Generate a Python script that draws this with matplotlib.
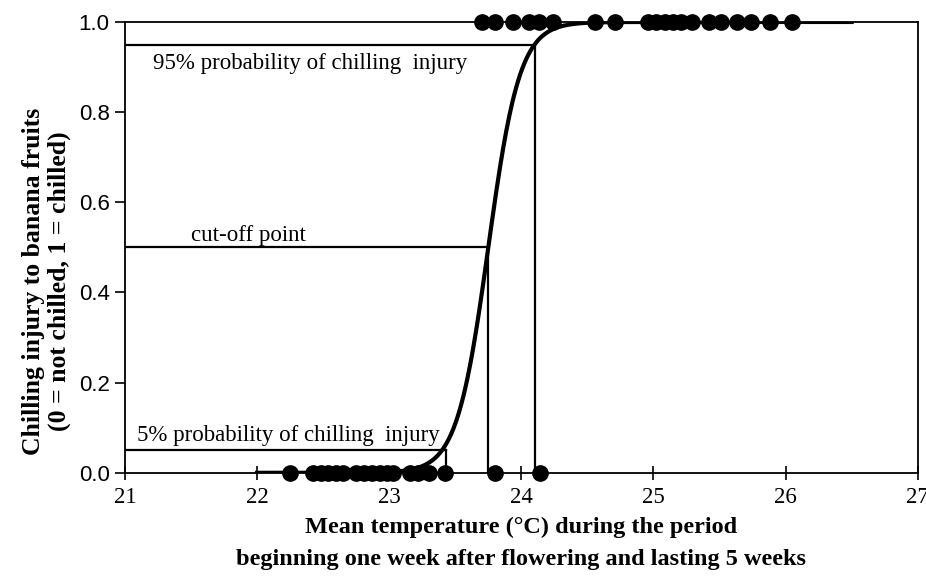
import numpy as np
import matplotlib.pyplot as plt

# observed temperatures (deg C) of not chilled / chilled fruits
temp_not_chilled = [22.25, 22.42, 22.48, 22.54, 22.60, 22.65, 22.75, 22.81, 22.87,
                    22.93, 22.98, 23.03, 23.16, 23.22, 23.30, 23.42, 23.80, 24.14]
temp_chilled = [23.70, 23.80, 23.94, 24.06, 24.13, 24.24, 24.56, 24.71,
                24.96, 25.02, 25.09, 25.15, 25.21, 25.29,
                25.42, 25.51, 25.63, 25.74, 25.88, 26.05]

# logistic fit
cutoff_temp = 23.75
p05_temp = 23.43
p95_temp = 24.10
slope = 8.4
curve_range = [22.0, 26.5]

plt.rcParams['font.family'] = ['Liberation Serif', 'DejaVu Serif']

fig = plt.figure(figsize=(9.26, 5.78), dpi=100)
ax = fig.add_axes([0.135, 0.182, 0.856, 0.780])

t = np.linspace(curve_range[0], curve_range[1], 600)
p = 1 / (1 + np.exp(-slope * (t - cutoff_temp)))
ax.plot(t, p, color='black', lw=3.0, zorder=3)

ax.plot(temp_not_chilled, np.zeros(len(temp_not_chilled)), 'o', color='black',
        ms=11, clip_on=False, zorder=4)
ax.plot(temp_chilled, np.ones(len(temp_chilled)), 'o', color='black',
        ms=11, clip_on=False, zorder=4)

# reference lines
for xv, yv in [(p95_temp, 0.95), (cutoff_temp, 0.5), (p05_temp, 0.05)]:
    ax.plot([21, xv], [yv, yv], color='black', lw=1.6, zorder=2)
    ax.plot([xv, xv], [0, yv], color='black', lw=1.6, zorder=2)

ax.text(21.21, 0.908, '95% probability of chilling  injury', fontsize=16.5, va='center')
ax.text(21.5, 0.527, 'cut-off point', fontsize=16.5, va='center')
ax.text(21.09, 0.083, '5% probability of chilling  injury', fontsize=16.5, va='center')

ax.set_xlim(21, 27)
ax.set_ylim(0, 1)
ax.set_xticks(range(21, 28))
ax.set_yticks([0, 0.2, 0.4, 0.6, 0.8, 1.0])
ax.set_yticklabels(['0.0', '0.2', '0.4', '0.6', '0.8', '1.0'],
                   family=['Liberation Sans', 'DejaVu Sans'])
ax.tick_params(axis='x', direction='inout', length=10, width=1.2, labelsize=16.5, pad=5)
ax.tick_params(axis='y', direction='out', length=7, width=1.2, labelsize=16, pad=4)
for s in ax.spines.values():
    s.set_linewidth(1.3)

ax.set_xlabel('Mean temperature (\u00b0C) during the period\n'
              'beginning one week after flowering and lasting 5 weeks',
              fontsize=17.5, fontweight='bold', linespacing=1.65)
ax.xaxis.set_label_coords(0.5, -0.098)
ax.xaxis.label.set_va('top')
ax.set_ylabel('Chilling injury to banana fruits\n(0 = not chilled, 1 = chilled)',
              fontsize=18.5, fontweight='bold', linespacing=1.15)
ax.yaxis.set_label_coords(-0.068, 0.424)

fig.savefig('out.png', dpi=100)
